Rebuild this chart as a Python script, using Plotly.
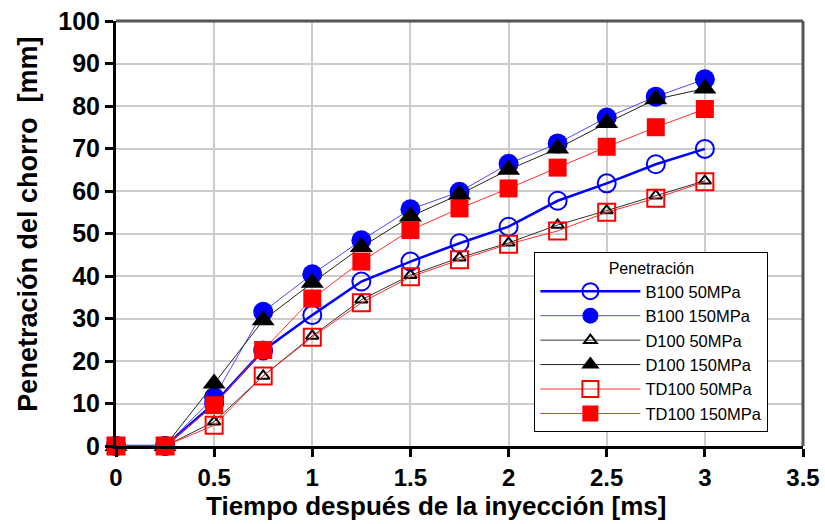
import plotly.graph_objects as go

t_ms = [0, 0.25, 0.5, 0.75, 1.0, 1.25, 1.5, 1.75, 2.0, 2.25, 2.5, 2.75, 3.0]

b100_50 = [0, 0, 10.0, 22.5, 30.8, 38.7, 43.4, 47.7, 51.6, 57.7, 61.8, 66.3, 69.9]
b100_150 = [0, 0, 11.5, 31.6, 40.4, 48.4, 55.7, 59.8, 66.4, 71.2, 77.3, 82.2, 86.3]
d100_50 = [0, 0, 5.7, 16.5, 25.9, 34.4, 40.2, 44.3, 47.8, 52.0, 55.4, 58.9, 62.4]
d100_150 = [0, 0, 14.7, 29.6, 38.4, 46.8, 54.0, 59.2, 65.0, 70.0, 76.0, 81.6, 84.1]
td100_50 = [0, 0, 4.9, 16.5, 25.6, 33.7, 39.8, 43.8, 47.5, 50.6, 55.0, 58.3, 62.2]
td100_150 = [0, 0, 9.6, 22.6, 34.7, 43.4, 50.8, 55.9, 60.6, 65.5, 70.4, 75.0, 79.3]

x_ticks = [0, 0.5, 1, 1.5, 2, 2.5, 3, 3.5]
x_tick_labels = ["0", "0.5", "1", "1.5", "2", "2.5", "3", "3.5"]
y_ticks = list(range(0, 101, 10))

FONT = "Liberation Sans, Arial, sans-serif"

series = [
    ("B100 50MPa", b100_50, dict(color="#0000ff", width=2.5),
     dict(symbol="circle-open", size=18, color="#0000ff", line=dict(width=2, color="#0000ff"))),
    ("B100 150MPa", b100_150, dict(color="#4a4aff", width=1),
     dict(symbol="circle", size=20, color="#0000ff")),
    ("D100 50MPa", d100_50, dict(color="#333333", width=1),
     dict(symbol="triangle-up-open", size=11, color="#000000", line=dict(width=2, color="#000000"))),
    ("D100 150MPa", d100_150, dict(color="#222222", width=1),
     dict(symbol="triangle-up", size=20, color="#000000")),
    ("TD100 50MPa", td100_50, dict(color="#ff3030", width=1),
     dict(symbol="square-open", size=17, color="#ff0000", line=dict(width=2, color="#ff0000"))),
    ("TD100 150MPa", td100_150, dict(color="#ff3030", width=1),
     dict(symbol="square", size=18, color="#ff0000")),
]

fig = go.Figure()
for name, ys, line, marker in series:
    fig.add_trace(go.Scatter(x=t_ms, y=ys, name=name, mode="lines+markers",
                             line=line, marker=marker, cliponaxis=False))

axis_common = dict(
    showgrid=True, gridcolor="#cccccc", gridwidth=1.5,
    showline=True, linecolor="#000000", linewidth=3,
    ticks="outside", tickcolor="#000000", tickwidth=2.5,
    tickfont=dict(family=FONT, size=24, color="#000000", weight="bold"),
    zeroline=False, mirror=False, automargin=False,
)

fig.update_xaxes(range=[0, 3.5], tickvals=x_ticks, ticktext=x_tick_labels,
                 ticklen=8, **axis_common)
fig.update_yaxes(range=[0, 100], tickvals=y_ticks, ticklen=8,
                 tickfont=dict(family=FONT, size=25, color="#000000", weight="bold"),
                 **{k: v for k, v in axis_common.items() if k != "tickfont"})

fig.add_shape(type="line", xref="paper", yref="paper", x0=0, x1=1, y0=1, y1=1,
              line=dict(color="#555555", width=3))
fig.add_shape(type="line", xref="paper", yref="paper", x0=1, x1=1, y0=0, y1=1,
              line=dict(color="#555555", width=3))

fig.add_annotation(text="Tiempo después de la inyección [ms]", xref="paper", yref="paper",
                   x=0.4658, y=-0.141, xanchor="center", yanchor="middle", showarrow=False,
                   font=dict(family=FONT, size=26, color="#000000", weight="bold"))
fig.add_annotation(text="Penetración del chorro\u00a0 [mm]", xref="paper", yref="paper",
                   x=-0.128, y=0.521, xanchor="center", yanchor="middle", showarrow=False,
                   textangle=-90,
                   font=dict(family=FONT, size=27, color="#000000", weight="bold"))

fig.update_layout(
    width=825, height=524,
    margin=dict(l=116, r=22, t=21, b=78),
    paper_bgcolor="#ffffff", plot_bgcolor="#ffffff",
    showlegend=True,
    legend=dict(
        x=0.609, y=0.456, xanchor="left", yanchor="top",
        bgcolor="#ffffff", bordercolor="#000000", borderwidth=1,
        font=dict(family=FONT, size=16.5, color="#000000"),
        title=dict(text="Penetración", side="top center",
                   font=dict(family=FONT, size=16, color="#000000")),
        itemwidth=100,
    ),
)

fig.write_html("out.html")
